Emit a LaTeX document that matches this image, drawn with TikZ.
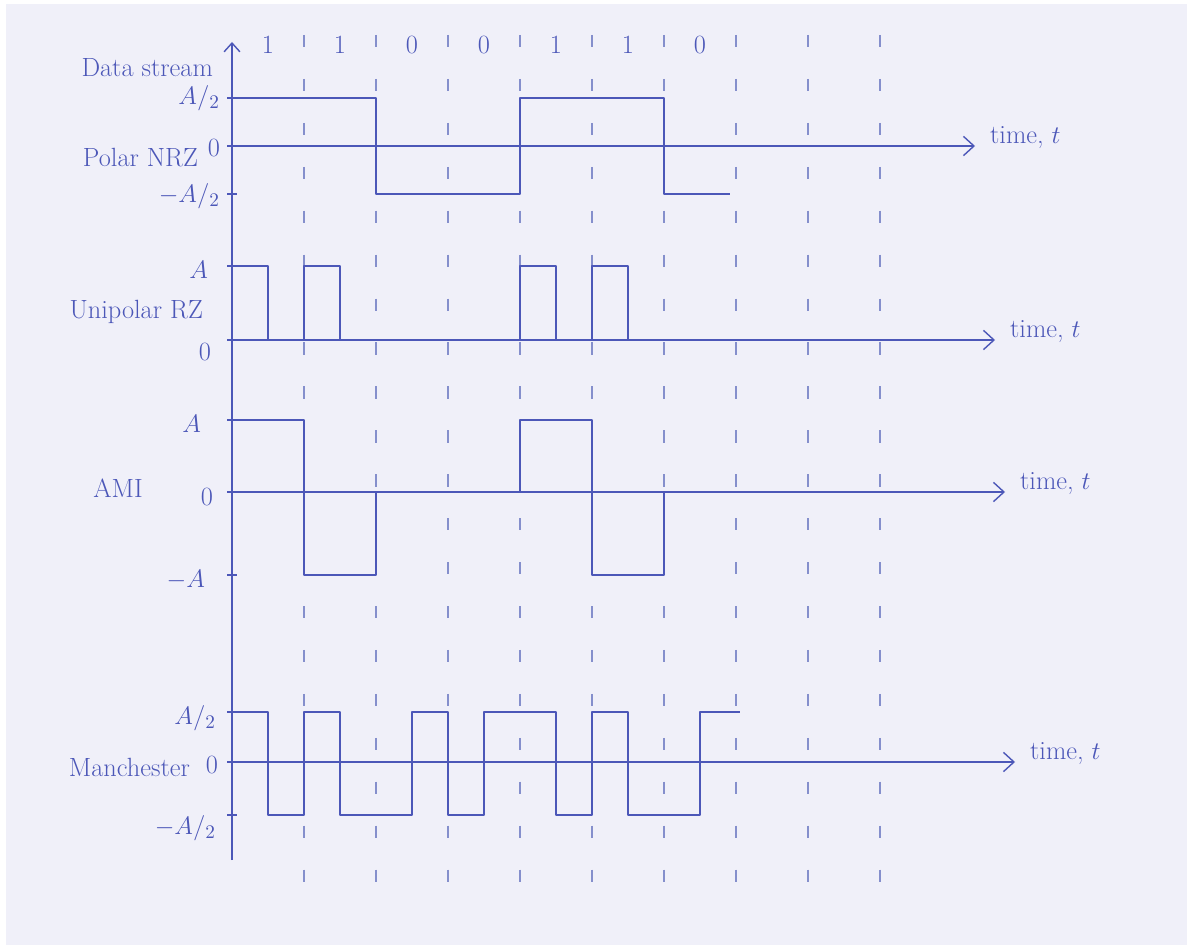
\documentclass[tikz,border=0pt]{standalone}
\usetikzlibrary{arrows.meta}
\definecolor{InkClr}{rgb}{0.30,0.34,0.72}
\definecolor{GuideClr}{rgb}{0.52,0.56,0.80}
\definecolor{PaperClr}{rgb}{0.94,0.94,0.975}

\begin{document}
\begin{tikzpicture}[x=0.02cm,y=-0.02cm,
  wave/.style={InkClr,line width=1.1pt,line join=round},
  axis/.style={InkClr,line width=0.8pt},
  timeaxis/.style={axis,-{Straight Barb[length=6pt,width=11pt]}},
  guide/.style={GuideClr,line width=0.7pt,dash pattern=on 7pt off 18pt},
  lbl/.style={text=InkClr,font=\fontsize{15}{17}\selectfont,inner sep=1pt}]

\fill[white] (0,0) rectangle (1187,945);
\fill[PaperClr] (6,4) rectangle (1187,945);
\useasboundingbox (0,0) rectangle (1187,945);

% bit boundaries
\foreach \k in {1,...,9}
  \draw[guide] ({232+72*\k},35) -- ({232+72*\k},885);

% vertical axis
\coordinate (yBot) at (232,860);
\coordinate (yTop) at (232,42);
\draw[axis,-{Straight Barb[length=5pt,width=9pt]}] (yBot) -- (yTop);
\foreach \y in {98,146,194,266,340,420,492,575,712,762,815}
  \draw[axis] (227,\y) -- (237,\y);

% data stream
\node[lbl,anchor=east] (dLbl) at (215,68) {Data stream};
\foreach \b [count=\k] in {1,1,0,0,1,1,0}
  \node[lbl] (bit\k) at ({232+72*\k-36},45) {\b};

% Polar NRZ
\coordinate (nrzO) at (232,146);
\coordinate (nrzE) at (975,146);
\draw[timeaxis] (nrzO) -- (nrzE);
\node[lbl,anchor=west] (nrzT) at (988,138) {time, $t$};
\node[lbl,anchor=east] (nrzL) at (200,158) {Polar NRZ};
\node[lbl,anchor=east] (nrzHi) at (222,98) {$A/_2$};
\node[lbl,anchor=east] (nrzZ) at (222,148) {0};
\node[lbl,anchor=east] (nrzLo) at (222,196) {$-A/_2$};
\draw[wave] (232,98) -- (376,98) -- (376,194) -- (520,194) -- (520,98)
  -- (664,98) -- (664,194) -- (730,194);

% Unipolar RZ
\coordinate (rzO) at (232,340);
\coordinate (rzE) at (995,340);
\draw[timeaxis] (rzO) -- (rzE);
\node[lbl,anchor=west] (rzT) at (1008,332) {time, $t$};
\node[lbl,anchor=east] (rzL) at (205,312) {Unipolar RZ};
\node[lbl,anchor=east] (rzHi) at (210,270) {$A$};
\node[lbl,anchor=east] (rzZ) at (213,352) {0};
\draw[wave] (232,266) -- (268,266) -- (268,340);
\draw[wave] (304,340) -- (304,266) -- (340,266) -- (340,340);
\draw[wave] (520,340) -- (520,266) -- (556,266) -- (556,340);
\draw[wave] (592,340) -- (592,266) -- (628,266) -- (628,340);

% AMI
\coordinate (amiO) at (232,492);
\coordinate (amiE) at (1005,492);
\draw[timeaxis] (amiO) -- (amiE);
\node[lbl,anchor=west] (amiT) at (1018,484) {time, $t$};
\node[lbl] (amiL) at (118,488) {AMI};
\node[lbl,anchor=east] (amiHi) at (203,424) {$A$};
\node[lbl,anchor=east] (amiZ) at (215,497) {0};
\node[lbl,anchor=east] (amiLo) at (207,580) {$-A$};
\draw[wave] (232,420) -- (304,420) -- (304,575) -- (376,575) -- (376,492)
  -- (520,492) -- (520,420) -- (592,420) -- (592,575) -- (664,575)
  -- (664,492) -- (740,492);

% Manchester
\coordinate (manO) at (232,762);
\coordinate (manE) at (1015,762);
\draw[timeaxis] (manO) -- (manE);
\node[lbl,anchor=west] (manT) at (1028,754) {time, $t$};
\node[lbl,anchor=east] (manL) at (192,767) {Manchester};
\node[lbl,anchor=east] (manHi) at (218,718) {$A/_2$};
\node[lbl,anchor=east] (manZ) at (220,765) {0};
\node[lbl,anchor=east] (manLo) at (218,828) {$-A/_2$};
\draw[wave] (232,712) -- (268,712) -- (268,815) -- (304,815) -- (304,712)
  -- (340,712) -- (340,815) -- (412,815) -- (412,712) -- (448,712)
  -- (448,815) -- (484,815) -- (484,712) -- (556,712) -- (556,815)
  -- (592,815) -- (592,712) -- (628,712) -- (628,815) -- (700,815)
  -- (700,712) -- (740,712);

\end{tikzpicture}
\end{document}
